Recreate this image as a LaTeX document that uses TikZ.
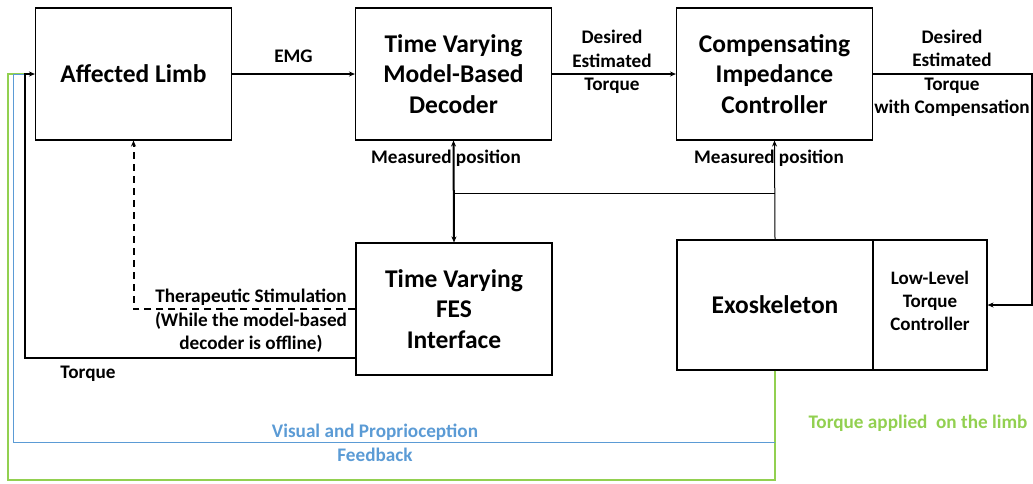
\documentclass[tikz,border=0pt]{standalone}
\usepackage{fontspec}
\setmainfont{Carlito}
\usetikzlibrary{arrows.meta}
\definecolor{fbblue}{RGB}{91,155,213}
\definecolor{fbgreen}{RGB}{146,208,80}
\begin{document}
\begin{tikzpicture}[x=1pt,y=-1pt,
  blk/.style={draw,line width=1.1pt,minimum width=196pt,minimum height=132pt,inner sep=0pt,align=center,font=\fontsize{25.5}{30.5}\selectfont\bfseries},
  lbl/.style={align=center,inner sep=0pt,font=\fontsize{19.2}{23.5}\selectfont\bfseries},
  arr/.style={-{Stealth[length=6pt,width=5pt]}},
  thick line/.style={line width=2pt}]
\useasboundingbox (0,0) rectangle (1033,483);
\node[blk] (limb) at (133.5,74) {Affected Limb};
\node[blk] (dec) at (453.5,74) {Time Varying\\Model-Based\\Decoder};
\node[blk] (comp) at (774.5,74) {Compensating\\Impedance\\Controller};
\node[blk] (fes) at (454,309) {Time Varying\\FES\\Interface};
\node[blk,minimum height=130pt] (exo) at (775,305) {Exoskeleton};
\node[blk,minimum width=114pt,minimum height=130pt,font=\fontsize{19}{23}\selectfont\bfseries] (low) at (930,305) {Low-Level\\Torque\\Controller\\[-15pt]\mbox{}};
\coordinate (rc) at (1032,74);
\coordinate (j1) at (453.5,193);
\coordinate (j2) at (775,193);
\coordinate (tq) at (356,358);
\coordinate (tc) at (25,358);
\coordinate (ta) at (25,74);
\coordinate (b1) at (775,442);
\coordinate (b2) at (13,442);
\coordinate (b3) at (13,74);
\coordinate (g1) at (775,480);
\coordinate (g2) at (8,480);
\coordinate (g3) at (8,74);
% feedback lines
\draw[fbgreen,line width=2.5pt] (exo.south) -- (g1) -- (g2) -- (g3) -- (ta);
\draw[fbblue,line width=1pt] (b1) -- (b2) -- (b3) -- (ta);
% main connectors
\draw[thick line,arr] (limb.east) -- (dec.west) node[lbl,midway,above=10pt] {EMG};
\draw[thick line,arr] (dec.east) -- (comp.west);
\node[lbl] at (612,62) {Desired\\Estimated\\Torque};
\draw[thick line,arr] (comp.east) -- (rc) -- (rc |- low.east) -- (low.east);
\node[lbl] at (952,73.5) {Desired\\Estimated\\Torque\\with Compensation};
\draw[thick line,{Stealth[length=6pt,width=5pt]}-{Stealth[length=6pt,width=5pt]}] (dec.south) -- (fes.north);
\draw[line width=1pt,arr] (exo.north) -- (comp.south);
\draw[line width=1pt] (j1) -- (j2);
\node[lbl] at (446,158) {Measured position};
\node[lbl] at (769,158) {Measured position};
\draw[thick line,arr] (tq) -- (tc) -- (ta) -- (limb.west);
\draw[thick line,dashed,dash pattern=on 7pt off 5pt,arr] (fes.west) -| (limb.south);
\node[lbl] at (251,321) {Therapeutic Stimulation\\(While the model-based\\decoder is offline)};
\node[lbl] at (88,374) {Torque};
\node[lbl,text=fbblue] at (375,443) {Visual and Proprioception\\Feedback};
\node[lbl,text=fbgreen] at (918,423) {Torque applied\ \ on the limb};
\end{tikzpicture}
\end{document}
